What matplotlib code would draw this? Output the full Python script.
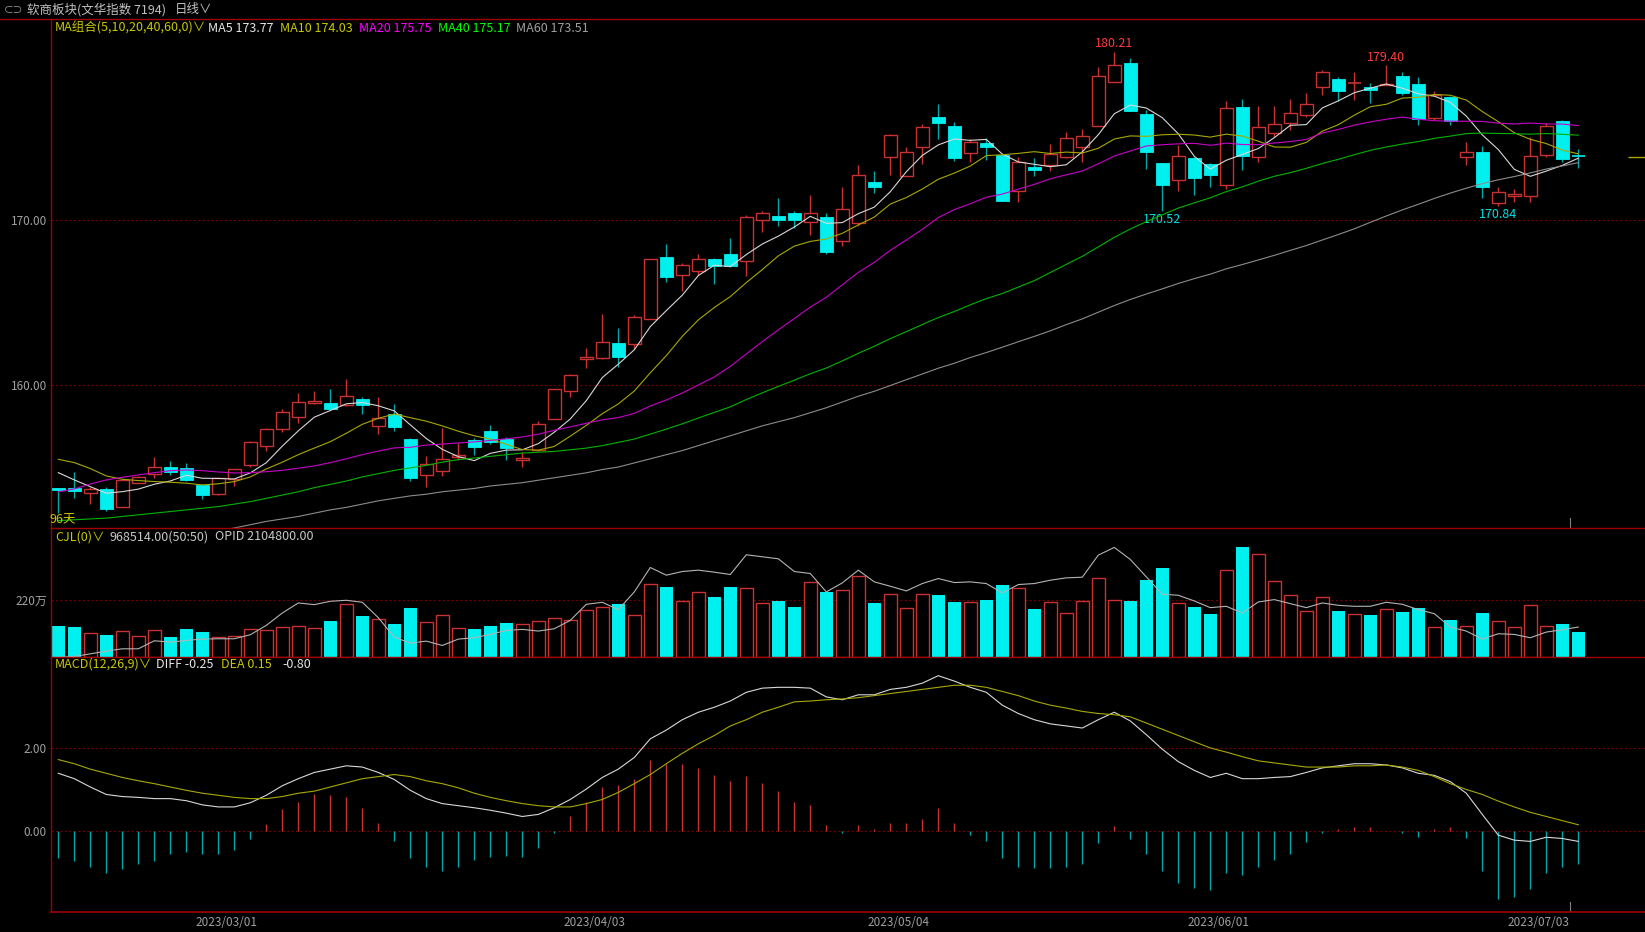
import numpy as np
import pandas as pd
import matplotlib
matplotlib.use('Agg')
import matplotlib.pyplot as plt
from matplotlib.patches import Rectangle
from matplotlib.lines import Line2D

plt.rcParams['font.family'] = ['Noto Sans CJK SC', 'DejaVu Sans']

W, H = 1645, 932
dpi_choice = 100

# daily candles, index 0 = 2023/02/15
opens = [153.72, 153.70, 153.41, 153.65, 152.60, 154.06, 154.56, 154.99, 154.93, 153.91,
         153.35, 154.26, 155.11, 156.28, 157.34, 158.06, 158.87, 158.91, 158.75, 159.16,
         157.52, 158.21, 156.73, 154.54, 154.73, 155.61, 156.64, 157.17, 156.72, 155.43,
         156.03, 157.90, 159.60, 161.58, 161.64, 162.55, 162.45, 164.01, 167.73, 166.64,
         166.92, 167.63, 167.94, 167.53, 169.98, 170.24, 170.43, 169.86, 170.20, 168.75,
         169.84, 172.31, 173.85, 172.69, 174.45, 176.23, 175.71, 174.05, 174.70, 173.93,
         171.74, 173.24, 173.34, 173.81, 174.41, 175.73, 178.36, 179.51, 176.44, 173.44,
         172.43, 173.78, 173.38, 172.15, 176.84, 173.85, 175.30, 175.91, 176.40, 178.10,
         178.54, 178.32, 178.10, 178.18, 178.76, 178.24, 176.21, 177.45, 173.85, 174.13,
         171.05, 171.44, 171.46, 173.95, 176.01, 173.89]
highs = [153.74, 154.68, 153.81, 153.81, 154.30, 154.46, 155.61, 155.37, 155.25, 153.97,
         154.42, 154.91, 156.57, 157.38, 158.51, 159.50, 159.62, 159.74, 160.35, 159.28,
         159.26, 158.81, 156.77, 155.66, 157.40, 156.46, 156.74, 157.55, 156.84, 155.93,
         157.82, 159.76, 160.65, 162.25, 164.29, 163.46, 164.21, 167.65, 168.54, 167.41,
         167.92, 167.67, 168.93, 170.32, 170.57, 171.36, 170.57, 171.52, 170.40, 171.98,
         173.32, 172.95, 175.22, 174.45, 175.83, 177.04, 175.97, 174.94, 174.96, 173.99,
         173.85, 173.74, 174.59, 175.34, 175.50, 179.27, 180.21, 179.86, 176.68, 173.44,
         174.55, 173.80, 173.44, 177.23, 177.37, 176.92, 176.92, 177.33, 177.69, 179.11,
         178.66, 178.97, 178.34, 179.40, 178.97, 178.66, 177.83, 177.53, 174.72, 174.49,
         172.02, 171.86, 175.06, 175.87, 176.07, 174.29]
lows = [152.19, 153.10, 152.76, 152.36, 152.58, 154.02, 154.32, 154.52, 154.16, 153.06,
        153.33, 153.85, 154.99, 156.00, 157.15, 157.70, 158.83, 158.55, 158.71, 158.25,
        157.03, 157.21, 154.18, 153.81, 154.48, 155.41, 155.73, 156.40, 155.43, 154.98,
        155.99, 157.90, 159.27, 161.03, 161.58, 161.05, 162.15, 164.01, 166.26, 165.67,
        166.66, 166.11, 167.17, 166.60, 169.25, 169.66, 169.49, 169.07, 167.94, 168.42,
        169.64, 171.62, 172.75, 172.67, 173.40, 174.94, 173.60, 173.54, 173.64, 171.13,
        171.07, 172.67, 173.00, 173.74, 173.54, 175.71, 178.36, 176.64, 173.08, 170.52,
        171.78, 171.54, 172.02, 171.86, 173.04, 173.54, 175.06, 175.46, 176.27, 177.59,
        177.23, 177.29, 177.12, 178.18, 177.59, 175.77, 176.07, 175.75, 173.34, 171.34,
        170.84, 171.11, 171.11, 173.85, 173.54, 173.18]
closes = [153.62, 153.55, 153.69, 152.46, 154.22, 154.38, 155.03, 154.68, 154.20, 153.31,
          154.32, 154.87, 156.53, 157.29, 158.35, 158.95, 159.02, 158.55, 159.32, 158.75,
          157.96, 157.46, 154.32, 155.17, 155.47, 155.74, 156.24, 156.54, 156.16, 155.55,
          157.61, 159.72, 160.57, 161.70, 162.57, 161.66, 164.09, 167.61, 166.56, 167.25,
          167.61, 167.23, 167.21, 170.20, 170.45, 170.00, 170.00, 170.45, 168.08, 170.67,
          172.71, 171.98, 175.14, 174.13, 175.63, 175.91, 173.76, 174.74, 174.41, 171.17,
          173.54, 173.04, 174.01, 175.00, 175.08, 178.76, 179.39, 176.64, 174.11, 172.15,
          173.87, 172.55, 172.75, 176.80, 173.91, 175.67, 175.85, 176.50, 177.02, 178.97,
          177.81, 178.32, 177.89, 178.28, 177.69, 176.13, 177.59, 176.01, 174.11, 171.98,
          171.68, 171.58, 173.89, 175.71, 173.72, 173.85]

ma5_head = [154.66, 154.22, 153.81, 153.41]
ma10_head = [155.47, 155.27, 154.91, 154.46, 154.26, 154.18, 154.12, 154.08, 154.02]
ma20_head = [153.49, 153.67, 153.97, 154.22, 154.38, 154.52, 154.66, 154.78, 154.82, 154.78,
             154.70, 154.64, 154.66, 154.72, 154.80, 154.93, 155.07, 155.27, 155.50]
ma40_head = [151.75, 151.80, 151.85, 151.90, 152.00, 152.10, 152.20, 152.30, 152.40, 152.50,
             152.60, 152.75, 152.90, 153.10, 153.30, 153.50, 153.75, 153.95, 154.15, 154.40,
             154.60, 154.80, 154.95, 155.10, 155.30, 155.45, 155.55, 155.65, 155.75, 155.85,
             155.90, 155.95, 156.05, 156.15, 156.30, 156.50, 156.70, 157.00, 157.30]
ma60_head = [149.30, 149.50, 149.70, 149.90, 150.10, 150.30, 150.50, 150.60, 150.80, 151.00,
             151.15, 151.30, 151.50, 151.70, 151.85, 152.00, 152.20, 152.40, 152.55, 152.75,
             152.95, 153.10, 153.25, 153.35, 153.50, 153.60, 153.70, 153.85, 153.95, 154.05,
             154.20, 154.35, 154.50, 154.65, 154.85, 155.00, 155.25, 155.50, 155.75, 156.00,
             156.30, 156.60, 156.90, 157.20, 157.50, 157.75, 158.00, 158.30, 158.60, 158.95,
             159.30, 159.60, 159.95, 160.30, 160.65, 161.00, 161.30, 161.65, 161.95]
# values shown in the legend line
ma_names = ['MA5', 'MA10', 'MA20', 'MA40', 'MA60']
ma_last = [173.77, 174.03, 175.75, 175.17, 173.51]

# volume (万手) and open interest (万)
volume = [117.7, 112.5, 91.8, 84.0, 97.0, 77.6, 102.1, 76.3, 104.7, 94.4,
          76.3, 78.9, 107.3, 100.9, 115.1, 119.0, 108.6, 138.4, 201.7, 157.7,
          146.1, 126.7, 188.8, 133.2, 161.6, 108.6, 106.0, 119.0, 130.6, 126.7,
          135.8, 150.0, 142.2, 178.4, 190.1, 203.0, 161.6, 280.6, 270.2, 213.3,
          250.8, 231.4, 267.7, 263.8, 205.6, 215.9, 190.1, 287.0, 249.5, 256.0,
          310.3, 205.6, 240.5, 188.8, 243.1, 237.9, 210.8, 209.5, 218.5, 278.0,
          266.4, 184.9, 209.5, 169.4, 215.9, 302.6, 217.2, 215.9, 296.1, 343.9,
          205.6, 192.7, 164.2, 333.6, 422.8, 398.2, 293.5, 239.2, 174.6, 231.4,
          177.1, 162.9, 159.0, 184.9, 172.0, 186.2, 115.1, 140.9, 119.0, 169.4,
          138.4, 115.1, 200.4, 119.0, 124.1, 96.8514]
open_interest = [165.5, 166.5, 170.5, 174.5, 178.0, 178.0, 190.0, 188.0, 190.5, 192.5,
                 193.0, 193.0, 199.0, 213.0, 231.5, 246.5, 244.0, 249.0, 250.5, 247.5,
                 224.5, 195.5, 186.5, 189.5, 183.0, 192.5, 194.5, 199.5, 205.5, 207.0,
                 204.5, 208.0, 220.5, 244.5, 247.5, 236.5, 263.0, 299.5, 288.0, 293.5,
                 295.5, 292.5, 289.0, 318.5, 315.5, 312.5, 293.5, 290.5, 263.0, 276.5,
                 295.5, 278.0, 271.5, 264.5, 275.5, 283.0, 277.0, 278.0, 275.5, 261.5,
                 274.0, 275.5, 280.5, 284.0, 285.0, 318.0, 329.5, 311.5, 285.5, 259.5,
                 258.0, 249.5, 239.5, 241.5, 231.5, 248.0, 251.5, 245.5, 239.5, 246.5,
                 243.0, 241.5, 241.5, 247.5, 244.5, 236.5, 230.5, 210.5, 204.5, 192.5,
                 200.5, 199.5, 194.5, 203.0, 206.5, 210.48]

# MACD(12,26,9)
diff = [1.39, 1.26, 1.06, 0.88, 0.83, 0.81, 0.78, 0.78, 0.73, 0.63,
        0.58, 0.58, 0.68, 0.86, 1.09, 1.26, 1.41, 1.49, 1.57, 1.54,
        1.41, 1.24, 0.98, 0.78, 0.66, 0.61, 0.56, 0.50, 0.43, 0.35,
        0.40, 0.56, 0.76, 1.01, 1.29, 1.49, 1.77, 2.22, 2.43, 2.68,
        2.86, 2.98, 3.13, 3.34, 3.44, 3.46, 3.46, 3.44, 3.23, 3.16,
        3.28, 3.28, 3.41, 3.46, 3.56, 3.74, 3.61, 3.46, 3.34, 3.03,
        2.83, 2.68, 2.58, 2.53, 2.48, 2.68, 2.86, 2.65, 2.32, 1.97,
        1.67, 1.46, 1.29, 1.39, 1.26, 1.26, 1.29, 1.31, 1.41, 1.52,
        1.57, 1.62, 1.62, 1.59, 1.52, 1.39, 1.34, 1.19, 0.91, 0.40,
        -0.10, -0.22, -0.25, -0.15, -0.18, -0.25]
dea = [1.72, 1.62, 1.49, 1.39, 1.29, 1.21, 1.14, 1.06, 0.98, 0.91,
       0.86, 0.81, 0.78, 0.78, 0.83, 0.91, 0.96, 1.06, 1.16, 1.26,
       1.31, 1.36, 1.31, 1.21, 1.14, 1.04, 0.91, 0.81, 0.73, 0.66,
       0.61, 0.58, 0.58, 0.66, 0.76, 0.93, 1.14, 1.36, 1.62, 1.87,
       2.10, 2.30, 2.53, 2.68, 2.86, 2.98, 3.11, 3.13, 3.16, 3.18,
       3.21, 3.26, 3.31, 3.36, 3.41, 3.46, 3.51, 3.51, 3.46, 3.36,
       3.26, 3.13, 3.03, 2.96, 2.88, 2.83, 2.80, 2.75, 2.60, 2.45,
       2.30, 2.15, 2.00, 1.90, 1.79, 1.69, 1.64, 1.59, 1.54, 1.54,
       1.54, 1.57, 1.57, 1.59, 1.54, 1.46, 1.31, 1.14, 1.00, 0.88,
       0.72, 0.58, 0.45, 0.35, 0.25, 0.15]

date_index = [10, 33, 52, 72, 92]
date_labels = ['2023/03/01', '2023/04/03', '2023/05/04', '2023/06/01', '2023/07/03']

peak_index = [66, 83]
trough_index = [69, 90]

# colours
red = '#c83232'
cyan = '#00f0f0'
cyan_dark = '#00a8a8'
border_red = '#a00000'
grid_red = '#700000'
label_gray = '#a0a0a0'
ma_colors = ['#d8d8d8', '#a8a800', '#c800c8', '#00b400', '#8c8c8c']
ma_text_colors = ['#e6e6e6', '#c8c800', '#ff00ff', '#00ff00', '#a0a0a0']
yellow_text = '#c8c800'

LEFT = 51
PX_PER_BAR = 16
x_left = -(58.3 - LEFT) / PX_PER_BAR
xlim = (x_left, x_left + (W - LEFT) / PX_PER_BAR)


def moving_average(values, n, head):
    ma = pd.Series(values).rolling(n).mean().to_numpy()
    ma[:n - 1] = head
    return ma


def add_panel(fig, top, bottom):
    ax = fig.add_axes([LEFT / W, 1 - bottom / H, (W - LEFT) / W, (bottom - top) / H])
    ax.set_facecolor('black')
    for side in ['right', 'bottom']:
        ax.spines[side].set_visible(False)
    for side in ['left', 'top']:
        ax.spines[side].set_color(border_red)
        ax.spines[side].set_linewidth(1.0)
    ax.set_xlim(xlim)
    ax.set_xticks([])
    ax.tick_params(axis='both', length=0, colors=label_gray, labelsize=8.5, pad=3)
    return ax


def grid_line(ax, y):
    ax.axhline(y, color=grid_red, linewidth=0.8, linestyle=(0, (2, 2)), zorder=0)


x = np.arange(len(closes))
o = np.array(opens)
h = np.array(highs)
l = np.array(lows)
c = np.array(closes)
up = c >= o

ma_list = [moving_average(closes, 5, ma5_head),
           moving_average(closes, 10, ma10_head),
           moving_average(closes, 20, ma20_head),
           moving_average(closes, 40, ma40_head),
           moving_average(closes, 60, ma60_head)]

fig = plt.figure(figsize=(W / dpi_choice, H / dpi_choice), dpi=dpi_choice, facecolor='black')

# ---- price panel
ax = add_panel(fig, 19, 528)
ax.set_ylim(151.30, 182.20)
ax.set_yticks([160, 170])
ax.set_yticklabels(['160.00', '170.00'])
grid_line(ax, 160)
grid_line(ax, 170)

bw = 0.82
for i in x:
    lo_b, hi_b = min(o[i], c[i]), max(o[i], c[i])
    if up[i]:
        ax.vlines(i, hi_b, h[i], color=red, linewidth=1.0, zorder=2)
        ax.vlines(i, l[i], lo_b, color=red, linewidth=1.0, zorder=2)
        if hi_b - lo_b < 0.05:
            ax.hlines(o[i], i - bw / 2, i + bw / 2, color=red, linewidth=1.2, zorder=3)
        else:
            ax.add_patch(Rectangle((i - bw / 2, lo_b), bw, hi_b - lo_b, facecolor='black',
                                   edgecolor=red, linewidth=1.0, zorder=3))
    else:
        ax.vlines(i, l[i], h[i], color=cyan_dark, linewidth=1.0, zorder=2)
        if hi_b - lo_b < 0.05:
            ax.hlines(o[i], i - bw / 2, i + bw / 2, color=cyan, linewidth=1.2, zorder=3)
        else:
            ax.add_patch(Rectangle((i - bw / 2, lo_b), bw, hi_b - lo_b, facecolor=cyan,
                                   edgecolor=cyan, linewidth=0.6, zorder=3))

for ma, col in zip(ma_list, ma_colors):
    ax.plot(x, ma, color=col, linewidth=0.8, zorder=4)

# last price stub at the right edge
ax.hlines(c[-1], xlim[1] - 17 / PX_PER_BAR, xlim[1], color='#a8a800', linewidth=1.0)

for i in peak_index:
    ax.annotate(f'{h[i]:.2f}', (i, h[i]), xytext=(0, 1), textcoords='offset points',
                ha='center', va='bottom', color='#ff3c3c', fontsize=9)
for i in trough_index:
    ax.annotate(f'{l[i]:.2f}', (i, l[i]), xytext=(0, -1), textcoords='offset points',
                ha='center', va='top', color='#00e0e0', fontsize=9)

ax.plot([94.5, 94.5], [151.3, 151.9], color='#808080', linewidth=0.8)

# ---- volume panel
axv = add_panel(fig, 528, 656.5)
axv.set_ylim(0, 498)
axv.set_yticks([220])
axv.set_yticklabels(['220万'])
grid_line(axv, 220)
vol = np.array(volume)
axv.bar(x[up], vol[up], width=bw, facecolor='black', edgecolor=red, linewidth=1.0, zorder=2)
axv.bar(x[~up], vol[~up], width=bw, color=cyan, linewidth=0, zorder=2)
axo = axv.twinx()
axo.set_ylim(166.5, 358.5)
axo.set_xlim(xlim)
axo.axis('off')
axo.plot(x, open_interest, color='#b4b4b4', linewidth=0.8, zorder=3)

# ---- MACD panel
axm = add_panel(fig, 657, 912)
axm.spines['bottom'].set_visible(True)
axm.spines['bottom'].set_color(border_red)
axm.spines['bottom'].set_linewidth(1.2)
axm.set_ylim(-1.95, 4.19)
axm.set_yticks([0, 2])
axm.set_yticklabels(['0.00', '2.00'])
grid_line(axm, 0)
grid_line(axm, 2)
macd = 2 * (np.array(diff) - np.array(dea))
pos = macd >= 0
axm.vlines(x[pos], 0, macd[pos], color=red, linewidth=1.0)
axm.vlines(x[~pos], 0, macd[~pos], color=cyan_dark, linewidth=1.0)
axm.plot(x, diff, color='#d8d8d8', linewidth=0.8)
axm.plot(x, dea, color='#a8a800', linewidth=0.8)
axm.plot([94.5, 94.5], [-1.95, -1.7], color='#808080', linewidth=0.8)
axm.set_xticks(np.array(date_index) + 0.5)
axm.set_xticklabels(date_labels)
axm.tick_params(axis='x', length=0, colors=label_gray, labelsize=8.5, pad=3)


def ftext(px, py, s, color, size=9, **kw):
    fig.text(px / W, 1 - py / H, s, color=color, fontsize=size, ha='left', va='center', **kw)


# header
fig.add_artist(Line2D([0, LEFT / W], [1 - 19 / H, 1 - 19 / H], color=border_red, linewidth=1.0))
ftext(4, 10, '⊂⊃', '#a0a0a0', size=7)
ftext(27, 10, '软商板块(文华指数 7194)', '#c0c0c0')
ftext(175, 10, '日线∨', '#c0c0c0')

# price legend
ftext(55, 28, 'MA组合(5,10,20,40,60,0)∨', yellow_text)
legend_x = [208, 280, 359, 438, 516]
for px, name, val, col in zip(legend_x, ma_names, ma_last, ma_text_colors):
    ftext(px, 28, f'{name} {val:.2f}', col)
ftext(50, 520, f'{len(closes)}天', yellow_text)

# volume legend
ftext(55, 537, 'CJL(0)∨', yellow_text)
ftext(110, 537, f'{volume[-1] * 10000:.2f}(50:50)', '#c8c8c8')
ftext(215, 537, f'OPID {open_interest[-1] * 10000:.2f}', '#c8c8c8')

# MACD legend
ftext(55, 664, 'MACD(12,26,9)∨', yellow_text)
ftext(156, 664, f'DIFF {diff[-1]:.2f}', '#e6e6e6')
ftext(221, 664, f'DEA {dea[-1]:.2f}', yellow_text)
ftext(282, 664, f'{macd[-1]:.2f}', '#e6e6e6')

fig.savefig('out.png', dpi=dpi_choice, facecolor='black')
